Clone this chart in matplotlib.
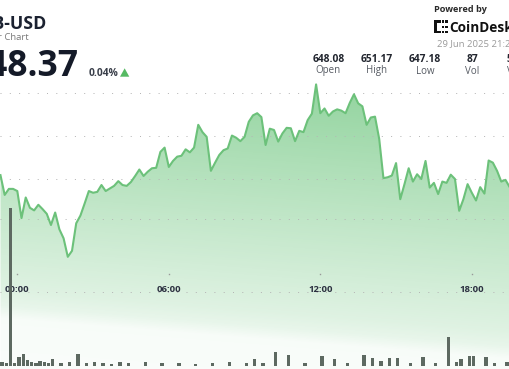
import numpy as np
import matplotlib
matplotlib.use("Agg")
import matplotlib.pyplot as plt
from matplotlib.patches import Polygon, Rectangle
from matplotlib.transforms import blended_transform_factory

# ---------------- data ----------------
# minutes relative to 00:00 (10-minute bars)
times = list(range(-40, 1171, 10))
prices = [
    649.09, 648.63, 648.77, 648.77, 648.72, 648.09, 648.57, 648.33, 648.27, 648.40,
    648.30, 648.19, 647.93, 648.22, 647.83, 647.62, 647.19, 647.33, 647.97, 648.15,
    648.43, 648.72, 648.68, 648.70, 648.86, 648.72, 648.78, 648.84, 648.95, 648.86,
    648.84, 648.93, 649.07, 649.22, 649.07, 649.17, 649.25, 649.26, 649.63, 649.73,
    649.28, 649.42, 649.52, 649.54, 649.69, 649.62, 649.73, 650.26, 650.09, 649.98,
    649.19, 649.38, 649.56, 649.67, 649.71, 650.01, 649.96, 649.88, 649.98, 650.33,
    650.48, 650.53, 650.44, 649.79, 650.17, 650.14, 649.87, 650.06, 650.19, 650.18,
    649.88, 650.12, 650.09, 650.37, 650.52, 651.20, 650.53, 650.64, 650.47, 650.57,
    650.62, 650.59, 650.53, 650.77, 650.97, 650.76, 650.69, 650.26, 650.43, 650.45,
    649.93, 649.02, 649.04, 649.08, 649.37, 648.53, 648.88, 649.25, 648.94, 649.11,
    649.00, 649.42, 648.80, 648.91, 648.65, 648.94, 648.91, 649.10, 649.00, 648.26,
    648.53, 648.88, 648.68, 648.50, 648.81, 648.66, 649.43, 649.38, 649.19, 648.94,
    648.98, 648.81,
]
vol_times = [-40, -30, -20, -10, 0, 10, 20, 30, 40, 50, 60, 70, 80, 100, 120, 140, 160, 180,
             200, 220, 240, 260, 300, 340, 380, 420, 460, 500, 540, 560, 580, 610, 640, 680,
             720, 750, 780, 820, 840, 860, 880, 900, 930, 960, 990, 1020, 1040, 1050, 1070,
             1080, 1110, 1130, 1160]
vol_values = [4, 3, 158, 3, 9, 12, 6, 4, 3, 5, 4, 3, 7, 3, 4, 12, 3, 4,
              3, 2, 4, 3, 4, 3, 3, 2, 3, 4, 3, 7, 3, 13.7, 11, 3,
              10, 7, 3, 11.3, 8, 5.3, 7.7, 7.7, 3, 9.3, 3, 28.7, 4, 7, 9.7,
              9.7, 9.3, 3, 4]

grid_levels = [651, 650, 649]
open_price = 648.08
tick_minutes = [0, 360, 720, 1080]
tick_labels = ["00:00", "06:00", "12:00", "18:00"]

stat_values = ["648.08", "651.17", "647.18", "87", "56.4K"]
stat_names = ["Open", "High", "Low", "Vol", "VWAP"]

# ---------------- layout ----------------
W, H = 510, 369
fig = plt.figure(figsize=(W / 100, H / 100), dpi=100)
fig.patch.set_facecolor("white")

FONT = ["Open Sans", "DejaVu Sans"]

X0, X1 = -41.11, 1170.75          # minutes at left / right figure edge
Y0, Y1 = 644.581, 653.163          # price at bottom / top figure edge
ax = fig.add_axes([0, 0, 1, 1])
ax.set_xlim(X0, X1)
ax.set_ylim(Y0, Y1)
ax.axis("off")

# gradient fill under the line
xs = np.arange(W)[None, :]
ys = np.arange(H)[:, None]
d = ys - 0.08 * xs
alpha = np.interp(d, [60, 200, 290, 305, 318, 420], [0.6, 0.34, 0.18, 0.13, 0.04, 0.025])
rgba = np.zeros((H, W, 4))
rgba[..., 0] = 76 / 255
rgba[..., 1] = 184 / 255
rgba[..., 2] = 96 / 255
rgba[..., 3] = alpha
poly = ax.fill_between(times, prices, Y0 - 1, facecolor="none", edgecolor="none")
img = ax.imshow(rgba, extent=[X0, X1, Y0, Y1], origin="upper", aspect="auto",
                zorder=1, interpolation="bilinear")
img.set_clip_path(poly.get_paths()[0], transform=ax.transData)

ax.plot(times, prices, color="#6cc17a", lw=1.5, zorder=3, solid_joinstyle="round")

# dotted grid lines
dot = dict(color="#b5b5b5", lw=0.72, linestyle=(0, (1, 8.3)), zorder=2)
for g in grid_levels:
    ax.axhline(g, **dot)
ax.axhline(open_price, **dot)
ax.axhline(646.372, **dot)

# time ticks + labels
btr = blended_transform_factory(ax.transData, ax.transAxes)
for m, lab in zip(tick_minutes, tick_labels):
    ax.plot([m], [1 - 274 / H], marker="s", ms=1.0, color="#999999", transform=btr,
            zorder=4, mec="none")
    ax.text(m, 1 - 289 / H, lab, transform=btr, ha="center", va="center",
            fontsize=6.8, fontweight="bold", color="#2b3040", family=FONT, zorder=4)

# volume bars
ax2 = fig.add_axes([0, 0, 1, 1], sharex=ax)
ax2.set_ylim(-3, H - 3)
ax2.axis("off")
ax2.patch.set_visible(False)
ax2.bar(vol_times, vol_values, width=8, align="edge", bottom=0, color="#5d6961",
        edgecolor="none", zorder=5)
ax2.set_xlim(X0, X1)


# ---------------- header texts ----------------
def P(x, y):
    return x / W, 1 - y / H


fig.text(*P(47, 29.3), "BNB-USD", ha="right", va="baseline", fontsize=12.8,
         fontweight="bold", color="#1b2130", family=FONT)
fig.text(*P(28.3, 40.5), "24 Hour Chart", ha="right", va="baseline", fontsize=6.8,
         color="#7a7a7a", family=FONT)
fig.text(*P(78.5, 76), "648.37", ha="right", va="baseline", fontsize=25.5,
         fontweight="bold", color="#141a28", family=FONT)
fig.text(*P(88.3, 76), "0.04%", ha="left", va="baseline", fontsize=7.4,
         fontweight="bold", color="#3a3f4a", family=FONT)
tri = Polygon([P(120, 76.7), P(129.3, 76.7), P(124.65, 68.3)], closed=True,
              transform=fig.transFigure, facecolor="#56ba63", edgecolor="none")
fig.patches.append(tri)

fig.text(*P(434.5, 12.3), "Powered by", ha="left", va="baseline", fontsize=6.6,
         fontweight="bold", color="#2a2a2a", family=FONT)
# CoinDesk icon (approximate)
for (x, y, w, h) in [(434, 20, 3, 13.3), (437, 20, 4, 2.6), (437, 30.7, 4, 2.6),
                     (442, 20, 2.5, 2.6), (445, 20, 2.7, 2.6), (442, 25.5, 2.5, 2.5),
                     (445, 25.5, 2.7, 2.5), (442, 30.7, 2.5, 2.6), (445, 30.7, 2.7, 2.6)]:
    fig.patches.append(Rectangle(P(x, y + h), w / W, h / H, transform=fig.transFigure,
                                 facecolor="#111111", edgecolor="none"))
fig.text(*P(449.3, 32), "CoinDesk", ha="left", va="baseline", fontsize=9.8,
         fontweight="bold", color="#111111", family=FONT)
fig.text(*P(436.7, 46.5), "29 Jun 2025 21:24", ha="left", va="baseline", fontsize=6.8,
         color="#9a9a9a", family=FONT)

stat_x = [328.3, 376.7, 425, 472.3, 520.6]
for sx, v, n in zip(stat_x, stat_values, stat_names):
    fig.text(*P(sx, 61.7), v, ha="center", va="baseline", fontsize=7.4,
             fontweight="bold", color="#22262f", family=FONT)
    fig.text(*P(sx, 73.5), n, ha="center", va="baseline", fontsize=7,
             color="#555a62", family=FONT)

fig.savefig("out.png", dpi=100, facecolor="white")
